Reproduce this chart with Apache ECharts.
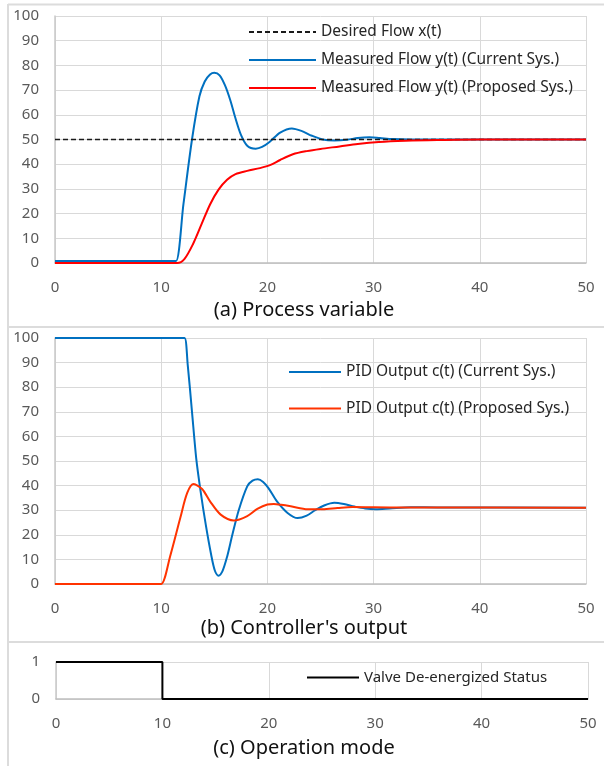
<!DOCTYPE html>
<html>
<head>
<meta charset="utf-8">
<script src="https://cdn.jsdelivr.net/npm/echarts@6/dist/echarts.min.js"></script>
<style>
  html, body { margin: 0; padding: 0; background: #fff; }
  #main { width: 604px; height: 766px; }
</style>
</head>
<body>
<div id="main"></div>
<script>
// x ticks shared by all three panels
const timeTicks = [0, 10, 20, 30, 40, 50];

// (a) process variable
const desiredTime = [0, 50];
const desiredFlow = [50, 50];

const curFlowTime = [0, 11, 11.4, 12.1, 12.9, 13.6, 14.1, 14.6, 15, 15.5, 16, 16.5, 17, 17.5, 18.1, 18.9, 19.5, 20.2, 21.2, 22.3, 23.2, 24.2, 25.2, 26.3, 27.5, 28.5, 29.6, 30.6, 31.8, 33.5, 36, 50];
const curFlow = [0.8, 0.8, 0.8, 24, 50, 67.5, 73.5, 76.3, 77, 76, 72, 66, 58.5, 52, 47.5, 46.3, 47, 49, 52.8, 54.5, 53.5, 51.5, 50, 49.6, 49.9, 50.6, 50.9, 50.6, 50.2, 50, 50, 50];

const newFlowTime = [0, 11.5, 12.2, 13, 13.8, 14.6, 15.4, 16.2, 17, 18.1, 19.3, 20.3, 21.2, 22.4, 23.7, 25, 26.8, 28.5, 30.5, 33, 36, 40, 50];
const newFlow = [0, 0, 1.7, 7.7, 15.7, 23.7, 29.7, 33.7, 36, 37.3, 38.4, 39.7, 41.7, 44, 45.3, 46.2, 47.2, 48.2, 49, 49.5, 49.8, 50, 50];

// (b) controller output
const curPidTime = [0, 11.8, 12.2, 12.5, 12.9, 13.3, 13.7, 14.2, 14.7, 15.05, 15.4, 15.75, 16.2, 16.7, 17.3, 18.1, 18.6, 19.1, 19.6, 20.1, 20.9, 21.9, 22.85, 23.7, 24.5, 25.4, 26.3, 27.2, 28.2, 29.2, 30.2, 31.5, 33.5, 36, 50];
const curPid = [100, 100, 100, 89, 70, 51, 38, 24, 12, 5.5, 3.4, 5, 11, 20, 30, 39.7, 42, 42.6, 41.5, 39, 33.6, 28.9, 26.8, 27.8, 30, 32, 33, 32.5, 31.5, 30.7, 30.4, 30.7, 31.2, 31.1, 31];

const newPidTime = [0, 9.6, 10, 10.85, 11.8, 12.45, 13.05, 13.85, 14.6, 15.6, 16.85, 18.1, 19.05, 20, 20.6, 21.3, 22.2, 23.8, 25.2, 26.6, 28, 30, 33, 50];
const newPid = [0, 0, 0, 11.4, 26.9, 37, 40.6, 38.6, 33.6, 28.2, 25.8, 27.6, 30.5, 32.3, 32.5, 32.2, 31.6, 30.4, 30.4, 30.9, 31.3, 31.2, 31.1, 31];

// (c) operation mode
const valveTime = [0, 10, 50];
const valveStatus = [1, 0, 0];

const captions = ['(a) Process variable', "(b) Controller's output", '(c) Operation mode'];

function pairs(xs, ys) {
  return xs.map((x, i) => [x, ys[i]]);
}

const font = 'Noto Sans';
const gridColor = '#D9D9D9';
const labelColor = '#595959';

function xAxisFor(idx) {
  return {
    type: 'value', gridIndex: idx, min: timeTicks[0], max: timeTicks[timeTicks.length - 1], interval: 10,
    axisLine: { show: true, lineStyle: { color: '#BFBFBF', width: 1.5 } },
    axisTick: { show: false },
    axisLabel: { color: labelColor, fontSize: 15, fontFamily: font, margin: 17 },
    splitLine: { show: true, lineStyle: { color: gridColor, width: 1 } }
  };
}
function yAxisFor(idx, max, interval) {
  return {
    type: 'value', gridIndex: idx, min: 0, max: max, interval: interval,
    axisLine: { show: true, lineStyle: { color: '#C8C8C8', width: 1.5 } },
    axisTick: { show: false },
    axisLabel: { color: labelColor, fontSize: 15, fontFamily: font, margin: 16 },
    splitLine: { show: true, lineStyle: { color: gridColor, width: 1 } }
  };
}

// legend line only, no marker dot
const legendBase = {
  orient: 'vertical', padding: 0, itemHeight: 14,
  itemStyle: { opacity: 0 },
  textStyle: { fontSize: 15.5, color: '#262626', fontFamily: font }
};

const option = {
  animation: false,
  backgroundColor: '#fff',
  textStyle: { fontFamily: font },
  grid: [
    { left: 55, right: 18, top: 16, height: 247 },
    { left: 55, right: 18, top: 338, height: 246 },
    { left: 56, right: 16, top: 662, height: 37 }
  ],
  xAxis: [xAxisFor(0), xAxisFor(1), xAxisFor(2)],
  yAxis: [yAxisFor(0, 100, 10), yAxisFor(1, 100, 10), yAxisFor(2, 1, 1)],
  legend: [
    Object.assign({}, legendBase, {
      data: ['Desired Flow x(t)', 'Measured Flow y(t) (Current Sys.)', 'Measured Flow y(t) (Proposed Sys.)'],
      left: 248, top: 24, itemWidth: 67, itemGap: 12
    }),
    Object.assign({}, legendBase, {
      data: ['PID Output c(t) (Current Sys.)', 'PID Output c(t) (Proposed Sys.)'],
      left: 288, top: 364, itemWidth: 52, itemGap: 20.5
    }),
    Object.assign({}, legendBase, {
      data: ['Valve De-energized Status'],
      left: 306, top: 670, itemWidth: 52,
      textStyle: { fontSize: 15, color: '#262626', fontFamily: font }
    })
  ],
  graphic: [
    { type: 'line', shape: { x1: 8, y1: 4.5, x2: 604, y2: 4.5 }, style: { stroke: '#DCDCDC', lineWidth: 2 } },
    { type: 'line', shape: { x1: 8, y1: 327, x2: 604, y2: 327 }, style: { stroke: '#DCDCDC', lineWidth: 2 } },
    { type: 'line', shape: { x1: 8, y1: 642, x2: 604, y2: 642 }, style: { stroke: '#DCDCDC', lineWidth: 2 } },
    { type: 'line', shape: { x1: 8, y1: 4, x2: 8, y2: 766 }, style: { stroke: '#DCDCDC', lineWidth: 2 } },
    { type: 'text', x: 304, y: 310, style: { text: captions[0], font: '20px "Noto Sans"', fill: '#111', textAlign: 'center', textVerticalAlign: 'middle' } },
    { type: 'text', x: 304, y: 628, style: { text: captions[1], font: '20px "Noto Sans"', fill: '#111', textAlign: 'center', textVerticalAlign: 'middle' } },
    { type: 'text', x: 304, y: 748, style: { text: captions[2], font: '20px "Noto Sans"', fill: '#111', textAlign: 'center', textVerticalAlign: 'middle' } }
  ],
  series: [
    {
      name: 'Desired Flow x(t)', type: 'line', xAxisIndex: 0, yAxisIndex: 0, symbol: 'none',
      data: pairs(desiredTime, desiredFlow), z: 3,
      lineStyle: { color: '#1A1A1A', width: 1.5, type: [5, 3] }, itemStyle: { color: '#1A1A1A' }
    },
    {
      name: 'Measured Flow y(t) (Current Sys.)', type: 'line', xAxisIndex: 0, yAxisIndex: 0, symbol: 'none', smooth: 0.3,
      data: pairs(curFlowTime, curFlow), z: 2,
      lineStyle: { color: '#0070C0', width: 2 }, itemStyle: { color: '#0070C0' }
    },
    {
      name: 'Measured Flow y(t) (Proposed Sys.)', type: 'line', xAxisIndex: 0, yAxisIndex: 0, symbol: 'none', smooth: 0.3,
      data: pairs(newFlowTime, newFlow), z: 4,
      lineStyle: { color: '#FF0000', width: 2 }, itemStyle: { color: '#FF0000' }
    },
    {
      name: 'PID Output c(t) (Current Sys.)', type: 'line', xAxisIndex: 1, yAxisIndex: 1, symbol: 'none', smooth: 0.3,
      data: pairs(curPidTime, curPid), z: 2,
      lineStyle: { color: '#0070C0', width: 2 }, itemStyle: { color: '#0070C0' }
    },
    {
      name: 'PID Output c(t) (Proposed Sys.)', type: 'line', xAxisIndex: 1, yAxisIndex: 1, symbol: 'none', smooth: 0.3,
      data: pairs(newPidTime, newPid), z: 3,
      lineStyle: { color: '#FF3300', width: 2 }, itemStyle: { color: '#FF3300' }
    },
    {
      name: 'Valve De-energized Status', type: 'line', xAxisIndex: 2, yAxisIndex: 2, symbol: 'none', step: 'end',
      data: pairs(valveTime, valveStatus),
      lineStyle: { color: '#000', width: 2 }, itemStyle: { color: '#000' }
    }
  ]
};

const chart = echarts.init(document.getElementById('main'), null, { renderer: 'canvas' });
chart.setOption(option);
</script>
</body>
</html>
